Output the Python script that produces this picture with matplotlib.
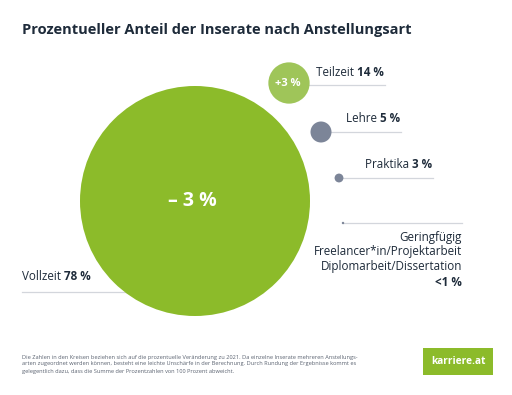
import matplotlib
matplotlib.use('Agg')
import matplotlib.pyplot as plt
from matplotlib.patches import Circle, Rectangle

plt.rcParams['font.family'] = ['Open Sans', 'DejaVu Sans']

# Daten
kategorien = ['Vollzeit', 'Teilzeit', 'Lehre', 'Praktika',
              'Geringfügig\nFreelancer*in/Projektarbeit\nDiplomarbeit/Dissertation']
anteile = [78, 14, 5, 3, 0.6]
anteil_text = ['78 %', '14 %', '5 %', '3 %', '<1 %']
veraenderung = ['– 3 %', '+3 %', None, None, None]

# Layout (Pixelkoordinaten)
zentren = [(195, 201), (289, 83), (321, 132), (339, 178), (343, 223)]
radien_min = [0, 0, 10.5, 4, 1.2]
farben = ['#8cbb2a', '#9fc559', '#7c8598', '#7c8598', '#7c8598']
label_pos = [(22, 277), (316, 73), (346, 119), (365, 165), (462, 239)]
linien = [(22, 132, 292), (289, 385, 85), (321, 401, 132), (339, 433, 178), (343, 462, 223)]
skala = 115 / 78

dunkel = '#1e2b3a'
fs = 8.4

fig = plt.figure(figsize=(5.12, 3.95), dpi=100)
ax = fig.add_axes([0, 0, 1, 1])
ax.set_xlim(0, 512)
ax.set_ylim(395, 0)
ax.axis('off')

# Linien
for x0, x1, y in linien:
    ax.plot([x0, x1], [y, y], color='#d3d6dc', lw=0.9, zorder=1)

# Kreise
for (cx, cy), a, rmin, f in zip(zentren, anteile, radien_min, farben):
    r = max(a * skala, rmin)
    ax.add_patch(Circle((cx, cy), r, color=f, zorder=2, lw=0))

# Veränderung in den Kreisen
ax.text(192, 201, veraenderung[0], color='white', fontsize=14, fontweight='bold',
        ha='center', va='center', zorder=3)
ax.text(288, 83, veraenderung[1], color='white', fontsize=8, fontweight='bold',
        ha='center', va='center', zorder=3)

# Beschriftungen
fig.canvas.draw()
inv = ax.transData.inverted()
for i in range(4):
    x, y = label_pos[i]
    t = ax.text(x, y, kategorien[i] + ' ', color=dunkel, fontsize=fs, ha='left', va='center')
    bb = t.get_window_extent(renderer=fig.canvas.get_renderer())
    x2 = inv.transform((bb.x1, bb.y0))[0]
    ax.text(x2, y, anteil_text[i], color=dunkel, fontsize=fs, fontweight='bold',
            ha='left', va='center')

x, y = label_pos[4]
ax.text(x, 231, kategorien[4], color=dunkel, fontsize=fs, ha='right', va='top',
        linespacing=1.15)
ax.text(x, 283, anteil_text[4], color=dunkel, fontsize=fs, fontweight='bold',
        ha='right', va='center')

# Titel
ax.text(22, 30, 'Prozentueller Anteil der Inserate nach Anstellungsart', color=dunkel,
        fontsize=10.55, fontweight='bold', ha='left', va='center')

# Fußnote
ax.text(22, 364,
        'Die Zahlen in den Kreisen beziehen sich auf die prozentuelle Veränderung zu 2021. '
        'Da einzelne Inserate mehreren Anstellungs-\n'
        'arten zugeordnet werden können, besteht eine leichte Unschärfe in der Berechnung. '
        'Durch Rundung der Ergebnisse kommt es\n'
        'gelegentlich dazu, dass die Summe der Prozentzahlen von 100 Prozent abweicht.',
        color='#5a6270', fontsize=4.1, ha='left', va='center', linespacing=1.5)

# Logo
ax.add_patch(Rectangle((423, 348), 70, 27, color='#8cbb2a', lw=0))
ax.text(458, 361.5, 'karriere.at', color='white', fontsize=7.3, fontweight='bold',
        ha='center', va='center')

fig.savefig('out.png', dpi=100)
